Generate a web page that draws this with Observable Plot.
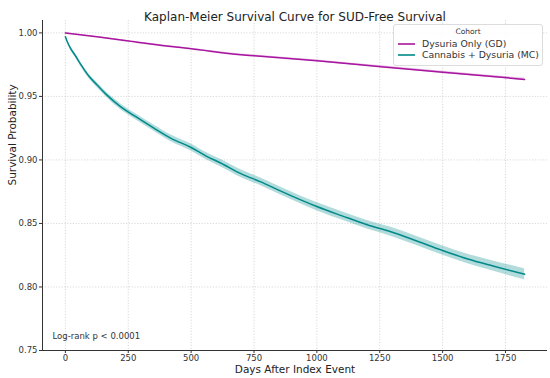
<!DOCTYPE html>
<html>
<head>
<meta charset="utf-8">
<script src="https://cdn.jsdelivr.net/npm/d3@7"></script>
<script src="https://cdn.jsdelivr.net/npm/@observablehq/plot@0.6"></script>
<style>
  html, body { margin: 0; padding: 0; background: #fff; }
  #wrap { position: relative; width: 550px; height: 378px; font-family: "DejaVu Sans", sans-serif; }
  #legend { position: absolute; left: 393px; top: 24px; width: 150px; height: 42px; box-sizing: border-box;
    border: 1px solid #dcdcdc; border-radius: 3px; background: rgba(255,255,255,0.85); color: #333; }
  #legend .title { position: absolute; left: 0; width: 100%; top: 2px; text-align: center; font-size: 7.5px; }
  #legend .row { position: absolute; left: 4px; font-size: 9.3px; line-height: 11px; white-space: nowrap; }
  #legend svg { vertical-align: middle; margin-right: 7px; position: relative; top: -1px; }
</style>
</head>
<body>
<div id="wrap"></div>
<script>
// ---- data ----
const titleText = "Kaplan-Meier Survival Curve for SUD-Free Survival";
const xLabel = "Days After Index Event";
const yLabel = "Survival Probability";
const noteText = "Log-rank p < 0.0001";
const legendTitle = "Cohort";
const seriesNames = ["Dysuria Only (GD)", "Cannabis + Dysuria (MC)"];

const xTicks = [0, 250, 500, 750, 1000, 1250, 1500, 1750];
const yTicks = [0.75, 0.80, 0.85, 0.90, 0.95, 1.00];

const gdDays = [0, 100, 250, 400, 500, 697, 750, 1000, 1254, 1500, 1826];
const gdSurv = [1.0, 0.9975, 0.9937, 0.9897, 0.9875, 0.9828, 0.9820, 0.9780, 0.9734, 0.9690, 0.9634];
const gdHalf = [0.0002, 0.0003, 0.0004, 0.0005, 0.0005, 0.0006, 0.0006, 0.0007, 0.0007, 0.0008, 0.0009];

const mcDays = [0, 10, 20, 40, 65, 93, 126, 160, 219, 280, 352, 420, 498, 560, 617, 700, 777, 850, 1002, 1100, 1200, 1294, 1400, 1493, 1600, 1700, 1826];
const mcSurv = [0.997, 0.992, 0.988, 0.982, 0.974, 0.966, 0.959, 0.952, 0.942, 0.934, 0.925, 0.917, 0.910, 0.903, 0.8976, 0.889, 0.8827, 0.876, 0.8631, 0.856, 0.849, 0.8435, 0.836, 0.8292, 0.822, 0.8165, 0.810];
const mcHalf = [0.0005, 0.001, 0.0012, 0.0014, 0.0016, 0.0018, 0.002, 0.0021, 0.0023, 0.0024, 0.0025, 0.0026, 0.0027, 0.0028, 0.0029, 0.003, 0.003, 0.0031, 0.0032, 0.0033, 0.0034, 0.0035, 0.0036, 0.0037, 0.0038, 0.004, 0.0043];

const xDomain = [-91, 1917];
const yDomain = [0.75, 1.00975];

const colors = ["#a8159f", "#00898a"];

// ---- build ----
const gd = gdDays.map((d, i) => ({day: d, s: gdSurv[i], lo: gdSurv[i] - gdHalf[i], hi: gdSurv[i] + gdHalf[i]}));
const mc = mcDays.map((d, i) => ({day: d, s: mcSurv[i], lo: mcSurv[i] - mcHalf[i], hi: mcSurv[i] + mcHalf[i]}));

const gridStyle = {stroke: "#cfcfcf", strokeOpacity: 1, strokeWidth: 0.8, strokeDasharray: "1.2,1.6"};

const chart = Plot.plot({
  width: 550,
  height: 378,
  marginLeft: 42,
  marginRight: 3,
  marginTop: 20,
  marginBottom: 28,
  style: {fontFamily: "DejaVu Sans", fontSize: "8.5px", color: "#333", background: "white", overflow: "visible"},
  x: {domain: xDomain, label: null},
  y: {domain: yDomain, label: null},
  marks: [
    Plot.gridX(xTicks, gridStyle),
    Plot.gridY(yTicks, gridStyle),
    Plot.areaY(mc, {x: "day", y1: "lo", y2: "hi", fill: colors[1], fillOpacity: 0.3, curve: "monotone-x"}),
    Plot.areaY(gd, {x: "day", y1: "lo", y2: "hi", fill: colors[0], fillOpacity: 0.3, curve: "monotone-x"}),
    Plot.lineY(gd, {x: "day", y: "s", stroke: colors[0], strokeWidth: 1.5, curve: "monotone-x"}),
    Plot.lineY(mc, {x: "day", y: "s", stroke: colors[1], strokeWidth: 1.5, curve: "monotone-x"}),
    Plot.ruleX([xDomain[0]], {stroke: "#333", strokeWidth: 1}),
    Plot.ruleY([yDomain[0]], {stroke: "#333", strokeWidth: 1}),
    Plot.axisX(xTicks, {tickSize: 3, tickPadding: 1, tickFormat: d => String(d), label: null, stroke: "#333", fill: "#333"}),
    Plot.axisY(yTicks, {tickSize: 3, tickPadding: 2, tickFormat: d3.format(".2f"), label: null, stroke: "#333", fill: "#333"}),
    Plot.text([titleText], {frameAnchor: "top", dy: -8, fontSize: 12, fill: "#222"}),
    Plot.text([xLabel], {frameAnchor: "bottom", dy: 22, fontSize: 10.5, fill: "#222"}),
    Plot.text([yLabel], {frameAnchor: "left", dx: -30, rotate: -90, fontSize: 10.5, fill: "#222"}),
    Plot.text([noteText], {frameAnchor: "bottom-left", dx: 10, dy: -12, textAnchor: "start", fontSize: 8.5, fill: "#333"})
  ]
});

const wrap = document.getElementById("wrap");
wrap.appendChild(chart);

const legend = document.createElement("div");
legend.id = "legend";
legend.innerHTML = `<div class="title">${legendTitle}</div>` +
  seriesNames.map((n, i) => `<div class="row" style="top:${13 + i * 11}px"><svg width="17" height="4"><line x1="0" x2="17" y1="2" y2="2" stroke="${colors[i]}" stroke-width="1.6"/></svg>${n}</div>`).join("");
wrap.appendChild(legend);
</script>
</body>
</html>
